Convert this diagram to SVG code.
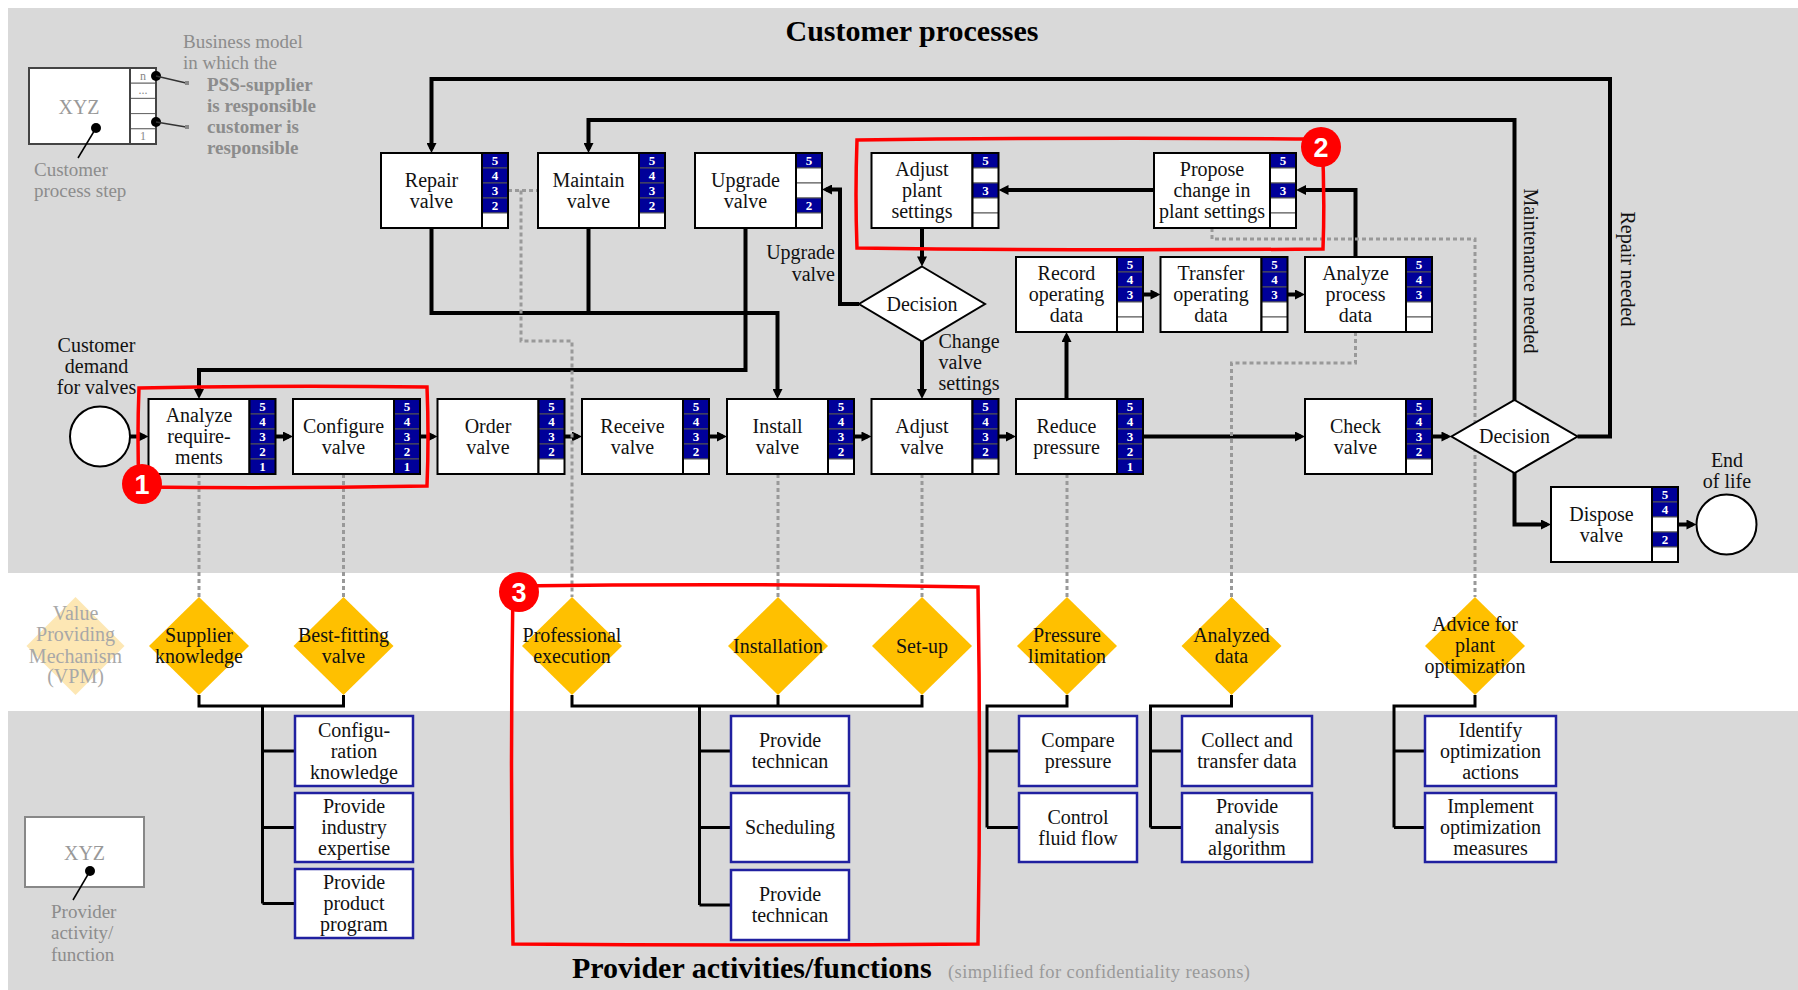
<svg xmlns="http://www.w3.org/2000/svg" width="1798" height="990" viewBox="0 0 1798 990">
<defs>
<marker id="ah" viewBox="0 0 10 10" refX="6" refY="5" markerWidth="11" markerHeight="10" markerUnits="userSpaceOnUse" orient="auto"><path d="M0,0 L10,5 L0,10 z" fill="#000"/></marker>
<style>
.box{fill:#fff;stroke:#000;stroke-width:2}
.cb{fill:#000099;stroke:#555;stroke-width:1}
.cw{fill:#fff;stroke:#555;stroke-width:1}
.col{fill:none;stroke:#000;stroke-width:2}
.cn{font-family:"Liberation Serif",serif;font-weight:bold;font-size:13px;fill:#fff;text-anchor:middle}
.t{font-family:"Liberation Serif",serif;font-size:20px;fill:#111;text-anchor:middle}
.tl{font-family:"Liberation Serif",serif;font-size:20px;fill:#111}
.g{font-family:"Liberation Serif",serif;font-size:19px;fill:#8c8c8c}
.gb{font-family:"Liberation Serif",serif;font-size:19px;font-weight:bold;fill:#8c8c8c}
.conn{fill:none;stroke:#000;stroke-width:4}
.dot{fill:none;stroke:#999;stroke-width:3;stroke-dasharray:4 3}
.tree{fill:none;stroke:#000;stroke-width:3}
.vpm{fill:#FFC000}
.pbox{fill:#fff;stroke:#2020a0;stroke-width:2.5}
.red{fill:none;stroke:#ff0000;stroke-width:3.5}
.rc{fill:#ff0000}
.rn{font-family:"Liberation Sans",sans-serif;font-weight:bold;font-size:27px;fill:#fff;text-anchor:middle}
.title{font-family:"Liberation Serif",serif;font-weight:bold;font-size:30px;fill:#000}
</style>
</defs>

<!-- background bands -->
<rect x="0" y="0" width="1798" height="990" fill="#fff"/>
<rect x="8" y="8" width="1790" height="565" fill="#d9d9d9"/>
<rect x="8" y="711" width="1790" height="279" fill="#d9d9d9"/>

<text class="title" x="912" y="41" text-anchor="middle">Customer processes</text>
<text class="title" x="572" y="978">Provider activities/functions</text>
<text class="g" x="948" y="978" textLength="302" style="font-size:18.5px;fill:#999">(simplified for confidentiality reasons)</text>

<!-- legend: customer process step -->
<g id="legend-customer">
<rect x="29" y="68" width="101" height="76" fill="#fff" stroke="#444" stroke-width="2"/>
<rect x="130" y="68" width="26" height="15.2" fill="#fff" stroke="#666" stroke-width="1"/>
<rect x="130" y="83.2" width="26" height="15.2" fill="#fff" stroke="#666" stroke-width="1"/>
<rect x="130" y="98.4" width="26" height="15.2" fill="#fff" stroke="#666" stroke-width="1"/>
<rect x="130" y="113.6" width="26" height="15.2" fill="#fff" stroke="#666" stroke-width="1"/>
<rect x="130" y="128.8" width="26" height="15.2" fill="#fff" stroke="#666" stroke-width="1"/>
<rect x="130" y="68" width="26" height="76" fill="none" stroke="#444" stroke-width="2"/>
<text x="143" y="80" text-anchor="middle" style="font-family:'Liberation Serif',serif;font-size:12px;fill:#888">n</text>
<text x="143" y="94" text-anchor="middle" style="font-family:'Liberation Serif',serif;font-size:12px;fill:#888">...</text>
<text x="143" y="140" text-anchor="middle" style="font-family:'Liberation Serif',serif;font-size:12px;fill:#888">1</text>
<text x="79" y="114" text-anchor="middle" class="g" style="font-size:20px;fill:#999">XYZ</text>
<circle cx="96" cy="128" r="5" fill="#000"/>
<line x1="96" y1="128" x2="78" y2="158" stroke="#000" stroke-width="1.5"/>
<text class="g" x="34" y="176">Customer</text>
<text class="g" x="34" y="197">process step</text>
<circle cx="156" cy="76" r="5" fill="#000"/>
<line x1="156" y1="76" x2="186" y2="83" stroke="#333" stroke-width="1.5"/>
<rect x="185" y="81" width="4" height="4" fill="#888"/>
<circle cx="156" cy="122" r="5" fill="#000"/>
<line x1="156" y1="122" x2="186" y2="127" stroke="#333" stroke-width="1.5"/>
<rect x="185" y="125" width="4" height="4" fill="#888"/>
<text class="g" x="183" y="48">Business model</text>
<text class="g" x="183" y="69">in which the</text>
<text class="gb" x="207" y="91">PSS-supplier</text>
<text class="gb" x="207" y="112">is responsible</text>
<text class="gb" x="207" y="133">customer is</text>
<text class="gb" x="207" y="154">responsible</text>
</g>

<!-- connectors -->
<g id="connectors">
<path class="conn" d="M130,436.5 H144.5" marker-end="url(#ah)"/>
<path class="conn" d="M275.5,436.5 H289" marker-end="url(#ah)"/>
<path class="conn" d="M420,436.5 H433.5" marker-end="url(#ah)"/>
<path class="conn" d="M564.5,436.5 H578" marker-end="url(#ah)"/>
<path class="conn" d="M709,436.5 H723" marker-end="url(#ah)"/>
<path class="conn" d="M854,436.5 H867.5" marker-end="url(#ah)"/>
<path class="conn" d="M998.5,436.5 H1012" marker-end="url(#ah)"/>
<path class="conn" d="M1143,436.5 H1301" marker-end="url(#ah)"/>
<path class="conn" d="M1432,436.5 H1447.5" marker-end="url(#ah)"/>
<path class="conn" d="M1514.5,473 V524.5 H1547" marker-end="url(#ah)"/>
<path class="conn" d="M1678,524.5 H1692.5" marker-end="url(#ah)"/>
<path class="conn" d="M1577.5,436.5 H1610 V79 H431.5 V149" marker-end="url(#ah)"/>
<path class="conn" d="M1514.5,400 V120 H588.5 V149" marker-end="url(#ah)"/>
<path class="conn" d="M431.5,228 V313 H777.5 V395" marker-end="url(#ah)"/>
<path class="conn" d="M588.5,228 V313"/>
<path class="conn" d="M745.5,228 V370 H199 V395" marker-end="url(#ah)"/>
<path class="conn" d="M922,228 V262.5" marker-end="url(#ah)"/>
<path class="conn" d="M922,341.5 V395" marker-end="url(#ah)"/>
<path class="conn" d="M859,304 H840 V189.5 H826" marker-end="url(#ah)"/>
<path class="conn" d="M1154,190 H1002.5" marker-end="url(#ah)"/>
<path class="conn" d="M1066.5,399 V336" marker-end="url(#ah)"/>
<path class="conn" d="M1143,294.5 H1156.5" marker-end="url(#ah)"/>
<path class="conn" d="M1287.5,294.5 H1301" marker-end="url(#ah)"/>
<path class="conn" d="M1355.5,257 V190 H1300" marker-end="url(#ah)"/>
<path class="dot" d="M199,474 V597"/>
<path class="dot" d="M343.5,474 V597"/>
<path class="dot" d="M508,190.5 H538"/>
<path class="dot" d="M521,190.5 V341 H572 V597"/>
<path class="dot" d="M778,474 V597"/>
<path class="dot" d="M922,474 V597"/>
<path class="dot" d="M1067,474 V597"/>
<path class="dot" d="M1355.5,332 V363 H1231.5 V597"/>
<path class="dot" d="M1212,228 V239 H1475 V597"/>
<path class="tree" d="M199,695 V706 H343.5 V695"/>
<path class="tree" d="M262.5,706 V903.5 M262.5,751 H295 M262.5,827.5 H295 M262.5,903.5 H295"/>
<path class="tree" d="M572,695 V706 H922 V695 M778,695 V706"/>
<path class="tree" d="M699.5,706 V905 M699.5,751 H731 M699.5,827.5 H731 M699.5,905 H731"/>
<path class="tree" d="M1067,695 V706 H987 V827.5 M987,751 H1019 M987,827.5 H1019"/>
<path class="tree" d="M1231.5,695 V706 H1150.5 V827.5 M1150.5,751 H1182 M1150.5,827.5 H1182"/>
<path class="tree" d="M1475,695 V706 H1394 V827.5 M1394,751 H1425 M1394,827.5 H1425"/>
</g>

<g id="start"><circle cx="100" cy="436.5" r="30" fill="#fff" stroke="#000" stroke-width="2"/>
<text class="t" x="96.5" y="352">Customer</text><text class="t" x="96.5" y="373">demand</text><text class="t" x="96.5" y="394">for valves</text></g>
<g id="end"><circle cx="1726.5" cy="524.5" r="30" fill="#fff" stroke="#000" stroke-width="2"/>
<text class="t" x="1727" y="467">End</text><text class="t" x="1727" y="488">of life</text></g>

<g id="repair-valve">
<rect class="box" x="381" y="153" width="101" height="75"/>
<rect class="cb" x="482" y="153" width="26" height="15"/><rect class="cb" x="482" y="168" width="26" height="15"/><rect class="cb" x="482" y="183" width="26" height="15"/><rect class="cb" x="482" y="198" width="26" height="15"/><rect class="cw" x="482" y="213" width="26" height="15"/>
<rect class="col" x="482" y="153" width="26" height="75"/>
<text class="cn" x="495" y="165">5</text><text class="cn" x="495" y="180">4</text><text class="cn" x="495" y="195">3</text><text class="cn" x="495" y="210">2</text>
<text class="t" x="431.5" y="186.5">Repair</text><text class="t" x="431.5" y="207.5">valve</text>
</g>
<g id="maintain-valve">
<rect class="box" x="538" y="153" width="101" height="75"/>
<rect class="cb" x="639" y="153" width="26" height="15"/><rect class="cb" x="639" y="168" width="26" height="15"/><rect class="cb" x="639" y="183" width="26" height="15"/><rect class="cb" x="639" y="198" width="26" height="15"/><rect class="cw" x="639" y="213" width="26" height="15"/>
<rect class="col" x="639" y="153" width="26" height="75"/>
<text class="cn" x="652" y="165">5</text><text class="cn" x="652" y="180">4</text><text class="cn" x="652" y="195">3</text><text class="cn" x="652" y="210">2</text>
<text class="t" x="588.5" y="186.5">Maintain</text><text class="t" x="588.5" y="207.5">valve</text>
</g>
<g id="upgrade-valve">
<rect class="box" x="695" y="153" width="101" height="75"/>
<rect class="cb" x="796" y="153" width="26" height="15"/><rect class="cw" x="796" y="168" width="26" height="15"/><rect class="cw" x="796" y="183" width="26" height="15"/><rect class="cb" x="796" y="198" width="26" height="15"/><rect class="cw" x="796" y="213" width="26" height="15"/>
<rect class="col" x="796" y="153" width="26" height="75"/>
<text class="cn" x="809" y="165">5</text><text class="cn" x="809" y="210">2</text>
<text class="t" x="745.5" y="186.5">Upgrade</text><text class="t" x="745.5" y="207.5">valve</text>
</g>
<g id="adjust-plant-settings">
<rect class="box" x="871.5" y="153" width="101" height="75"/>
<rect class="cb" x="972.5" y="153" width="26" height="15"/><rect class="cw" x="972.5" y="168" width="26" height="15"/><rect class="cb" x="972.5" y="183" width="26" height="15"/><rect class="cw" x="972.5" y="198" width="26" height="15"/><rect class="cw" x="972.5" y="213" width="26" height="15"/>
<rect class="col" x="972.5" y="153" width="26" height="75"/>
<text class="cn" x="985.5" y="165">5</text><text class="cn" x="985.5" y="195">3</text>
<text class="t" x="922" y="176">Adjust</text><text class="t" x="922" y="197">plant</text><text class="t" x="922" y="218">settings</text>
</g>
<g id="propose-change">
<rect class="box" x="1154" y="153" width="116" height="75"/>
<rect class="cb" x="1270" y="153" width="26" height="15"/><rect class="cw" x="1270" y="168" width="26" height="15"/><rect class="cb" x="1270" y="183" width="26" height="15"/><rect class="cw" x="1270" y="198" width="26" height="15"/><rect class="cw" x="1270" y="213" width="26" height="15"/>
<rect class="col" x="1270" y="153" width="26" height="75"/>
<text class="cn" x="1283" y="165">5</text><text class="cn" x="1283" y="195">3</text>
<text class="t" x="1212" y="176">Propose</text><text class="t" x="1212" y="197">change in</text><text class="t" x="1212" y="218">plant settings</text>
</g>

<g id="decision-mid">
<polygon points="922,266.5 985,304 922,341.5 859,304" fill="#fff" stroke="#000" stroke-width="2"/>
<text class="t" x="922" y="310.5">Decision</text>
</g>
<text class="t" x="835" y="259" style="text-anchor:end">Upgrade</text>
<text class="t" x="835" y="281" style="text-anchor:end">valve</text>
<text class="tl" x="938.5" y="348">Change</text>
<text class="tl" x="938.5" y="369">valve</text>
<text class="tl" x="938.5" y="390">settings</text>
<g id="decision-right">
<polygon points="1514.5,400 1577.5,436.5 1514.5,473 1451.5,436.5" fill="#fff" stroke="#000" stroke-width="2"/>
<text class="t" x="1514.5" y="443">Decision</text>
</g>
<text class="t" transform="translate(1524,271) rotate(90)">Maintenance needed</text>
<text class="t" transform="translate(1621,269) rotate(90)">Repair needed</text>

<g id="record-operating-data">
<rect class="box" x="1016" y="257" width="101" height="75"/>
<rect class="cb" x="1117" y="257" width="26" height="15"/><rect class="cb" x="1117" y="272" width="26" height="15"/><rect class="cb" x="1117" y="287" width="26" height="15"/><rect class="cw" x="1117" y="302" width="26" height="15"/><rect class="cw" x="1117" y="317" width="26" height="15"/>
<rect class="col" x="1117" y="257" width="26" height="75"/>
<text class="cn" x="1130" y="269">5</text><text class="cn" x="1130" y="284">4</text><text class="cn" x="1130" y="299">3</text>
<text class="t" x="1066.5" y="280">Record</text><text class="t" x="1066.5" y="301">operating</text><text class="t" x="1066.5" y="322">data</text>
</g>
<g id="transfer-operating-data">
<rect class="box" x="1160.5" y="257" width="101" height="75"/>
<rect class="cb" x="1261.5" y="257" width="26" height="15"/><rect class="cb" x="1261.5" y="272" width="26" height="15"/><rect class="cb" x="1261.5" y="287" width="26" height="15"/><rect class="cw" x="1261.5" y="302" width="26" height="15"/><rect class="cw" x="1261.5" y="317" width="26" height="15"/>
<rect class="col" x="1261.5" y="257" width="26" height="75"/>
<text class="cn" x="1274.5" y="269">5</text><text class="cn" x="1274.5" y="284">4</text><text class="cn" x="1274.5" y="299">3</text>
<text class="t" x="1211" y="280">Transfer</text><text class="t" x="1211" y="301">operating</text><text class="t" x="1211" y="322">data</text>
</g>
<g id="analyze-process-data">
<rect class="box" x="1305" y="257" width="101" height="75"/>
<rect class="cb" x="1406" y="257" width="26" height="15"/><rect class="cb" x="1406" y="272" width="26" height="15"/><rect class="cb" x="1406" y="287" width="26" height="15"/><rect class="cw" x="1406" y="302" width="26" height="15"/><rect class="cw" x="1406" y="317" width="26" height="15"/>
<rect class="col" x="1406" y="257" width="26" height="75"/>
<text class="cn" x="1419" y="269">5</text><text class="cn" x="1419" y="284">4</text><text class="cn" x="1419" y="299">3</text>
<text class="t" x="1355.5" y="280">Analyze</text><text class="t" x="1355.5" y="301">process</text><text class="t" x="1355.5" y="322">data</text>
</g>

<g id="analyze-requirements">
<rect class="box" x="148.5" y="399" width="101" height="75"/>
<rect class="cb" x="249.5" y="399" width="26" height="15"/><rect class="cb" x="249.5" y="414" width="26" height="15"/><rect class="cb" x="249.5" y="429" width="26" height="15"/><rect class="cb" x="249.5" y="444" width="26" height="15"/><rect class="cb" x="249.5" y="459" width="26" height="15"/>
<rect class="col" x="249.5" y="399" width="26" height="75"/>
<text class="cn" x="262.5" y="411">5</text><text class="cn" x="262.5" y="426">4</text><text class="cn" x="262.5" y="441">3</text><text class="cn" x="262.5" y="456">2</text><text class="cn" x="262.5" y="471">1</text>
<text class="t" x="199" y="422">Analyze</text><text class="t" x="199" y="443">require-</text><text class="t" x="199" y="464">ments</text>
</g>
<g id="configure-valve">
<rect class="box" x="293" y="399" width="101" height="75"/>
<rect class="cb" x="394" y="399" width="26" height="15"/><rect class="cb" x="394" y="414" width="26" height="15"/><rect class="cb" x="394" y="429" width="26" height="15"/><rect class="cb" x="394" y="444" width="26" height="15"/><rect class="cb" x="394" y="459" width="26" height="15"/>
<rect class="col" x="394" y="399" width="26" height="75"/>
<text class="cn" x="407" y="411">5</text><text class="cn" x="407" y="426">4</text><text class="cn" x="407" y="441">3</text><text class="cn" x="407" y="456">2</text><text class="cn" x="407" y="471">1</text>
<text class="t" x="343.5" y="432.5">Configure</text><text class="t" x="343.5" y="453.5">valve</text>
</g>
<g id="order-valve">
<rect class="box" x="437.5" y="399" width="101" height="75"/>
<rect class="cb" x="538.5" y="399" width="26" height="15"/><rect class="cb" x="538.5" y="414" width="26" height="15"/><rect class="cb" x="538.5" y="429" width="26" height="15"/><rect class="cb" x="538.5" y="444" width="26" height="15"/><rect class="cw" x="538.5" y="459" width="26" height="15"/>
<rect class="col" x="538.5" y="399" width="26" height="75"/>
<text class="cn" x="551.5" y="411">5</text><text class="cn" x="551.5" y="426">4</text><text class="cn" x="551.5" y="441">3</text><text class="cn" x="551.5" y="456">2</text>
<text class="t" x="488" y="432.5">Order</text><text class="t" x="488" y="453.5">valve</text>
</g>
<g id="receive-valve">
<rect class="box" x="582" y="399" width="101" height="75"/>
<rect class="cb" x="683" y="399" width="26" height="15"/><rect class="cb" x="683" y="414" width="26" height="15"/><rect class="cb" x="683" y="429" width="26" height="15"/><rect class="cb" x="683" y="444" width="26" height="15"/><rect class="cw" x="683" y="459" width="26" height="15"/>
<rect class="col" x="683" y="399" width="26" height="75"/>
<text class="cn" x="696" y="411">5</text><text class="cn" x="696" y="426">4</text><text class="cn" x="696" y="441">3</text><text class="cn" x="696" y="456">2</text>
<text class="t" x="632.5" y="432.5">Receive</text><text class="t" x="632.5" y="453.5">valve</text>
</g>
<g id="install-valve">
<rect class="box" x="727" y="399" width="101" height="75"/>
<rect class="cb" x="828" y="399" width="26" height="15"/><rect class="cb" x="828" y="414" width="26" height="15"/><rect class="cb" x="828" y="429" width="26" height="15"/><rect class="cb" x="828" y="444" width="26" height="15"/><rect class="cw" x="828" y="459" width="26" height="15"/>
<rect class="col" x="828" y="399" width="26" height="75"/>
<text class="cn" x="841" y="411">5</text><text class="cn" x="841" y="426">4</text><text class="cn" x="841" y="441">3</text><text class="cn" x="841" y="456">2</text>
<text class="t" x="777.5" y="432.5">Install</text><text class="t" x="777.5" y="453.5">valve</text>
</g>
<g id="adjust-valve">
<rect class="box" x="871.5" y="399" width="101" height="75"/>
<rect class="cb" x="972.5" y="399" width="26" height="15"/><rect class="cb" x="972.5" y="414" width="26" height="15"/><rect class="cb" x="972.5" y="429" width="26" height="15"/><rect class="cb" x="972.5" y="444" width="26" height="15"/><rect class="cw" x="972.5" y="459" width="26" height="15"/>
<rect class="col" x="972.5" y="399" width="26" height="75"/>
<text class="cn" x="985.5" y="411">5</text><text class="cn" x="985.5" y="426">4</text><text class="cn" x="985.5" y="441">3</text><text class="cn" x="985.5" y="456">2</text>
<text class="t" x="922" y="432.5">Adjust</text><text class="t" x="922" y="453.5">valve</text>
</g>
<g id="reduce-pressure">
<rect class="box" x="1016" y="399" width="101" height="75"/>
<rect class="cb" x="1117" y="399" width="26" height="15"/><rect class="cb" x="1117" y="414" width="26" height="15"/><rect class="cb" x="1117" y="429" width="26" height="15"/><rect class="cb" x="1117" y="444" width="26" height="15"/><rect class="cb" x="1117" y="459" width="26" height="15"/>
<rect class="col" x="1117" y="399" width="26" height="75"/>
<text class="cn" x="1130" y="411">5</text><text class="cn" x="1130" y="426">4</text><text class="cn" x="1130" y="441">3</text><text class="cn" x="1130" y="456">2</text><text class="cn" x="1130" y="471">1</text>
<text class="t" x="1066.5" y="432.5">Reduce</text><text class="t" x="1066.5" y="453.5">pressure</text>
</g>
<g id="check-valve">
<rect class="box" x="1305" y="399" width="101" height="75"/>
<rect class="cb" x="1406" y="399" width="26" height="15"/><rect class="cb" x="1406" y="414" width="26" height="15"/><rect class="cb" x="1406" y="429" width="26" height="15"/><rect class="cb" x="1406" y="444" width="26" height="15"/><rect class="cw" x="1406" y="459" width="26" height="15"/>
<rect class="col" x="1406" y="399" width="26" height="75"/>
<text class="cn" x="1419" y="411">5</text><text class="cn" x="1419" y="426">4</text><text class="cn" x="1419" y="441">3</text><text class="cn" x="1419" y="456">2</text>
<text class="t" x="1355.5" y="432.5">Check</text><text class="t" x="1355.5" y="453.5">valve</text>
</g>
<g id="dispose-valve">
<rect class="box" x="1551" y="487" width="101" height="75"/>
<rect class="cb" x="1652" y="487" width="26" height="15"/><rect class="cb" x="1652" y="502" width="26" height="15"/><rect class="cw" x="1652" y="517" width="26" height="15"/><rect class="cb" x="1652" y="532" width="26" height="15"/><rect class="cw" x="1652" y="547" width="26" height="15"/>
<rect class="col" x="1652" y="487" width="26" height="75"/>
<text class="cn" x="1665" y="499">5</text><text class="cn" x="1665" y="514">4</text><text class="cn" x="1665" y="544">2</text>
<text class="t" x="1601.5" y="520.5">Dispose</text><text class="t" x="1601.5" y="541.5">valve</text>
</g>

<g id="vpm-legend">
<polygon points="75.5,597 124.5,646 75.5,695 26.5,646" fill="#fde7b4"/>
<text class="t" x="75.5" y="620" style="fill:#a8a8a8">Value</text><text class="t" x="75.5" y="641" style="fill:#a8a8a8">Providing</text><text class="t" x="75.5" y="662.5" style="fill:#a8a8a8">Mechanism</text><text class="t" x="75.5" y="683" style="fill:#a8a8a8">(VPM)</text>
</g>
<g id="vpm-supplier-knowledge"><polygon class="vpm" points="199,597 249,646 199,695 149,646"/><text class="t" x="199" y="642">Supplier</text><text class="t" x="199" y="663">knowledge</text></g>
<g id="vpm-best-fitting"><polygon class="vpm" points="343.5,597 393.5,646 343.5,695 293.5,646"/><text class="t" x="343.5" y="642">Best-fitting</text><text class="t" x="343.5" y="663">valve</text></g>
<g id="vpm-professional"><polygon class="vpm" points="572,597 622,646 572,695 522,646"/><text class="t" x="572" y="642">Professional</text><text class="t" x="572" y="663">execution</text></g>
<g id="vpm-installation"><polygon class="vpm" points="778,597 828,646 778,695 728,646"/><text class="t" x="778" y="652.5">Installation</text></g>
<g id="vpm-setup"><polygon class="vpm" points="922,597 972,646 922,695 872,646"/><text class="t" x="922" y="652.5">Set-up</text></g>
<g id="vpm-pressure"><polygon class="vpm" points="1067,597 1117,646 1067,695 1017,646"/><text class="t" x="1067" y="642">Pressure</text><text class="t" x="1067" y="663">limitation</text></g>
<g id="vpm-analyzed"><polygon class="vpm" points="1231.5,597 1281.5,646 1231.5,695 1181.5,646"/><text class="t" x="1231.5" y="642">Analyzed</text><text class="t" x="1231.5" y="663">data</text></g>
<g id="vpm-advice"><polygon class="vpm" points="1475,597 1525,646 1475,695 1425,646"/><text class="t" x="1475" y="631">Advice for</text><text class="t" x="1475" y="652">plant</text><text class="t" x="1475" y="673">optimization</text></g>

<g id="legend-provider">
<rect x="25" y="817" width="119" height="70" fill="#fff" stroke="#888" stroke-width="2"/>
<text class="g" x="84.5" y="860" text-anchor="middle" style="font-size:20px;fill:#999">XYZ</text>
<circle cx="90" cy="871" r="5" fill="#000"/>
<line x1="90" y1="871" x2="73" y2="900" stroke="#000" stroke-width="1.5"/>
<text class="g" x="51" y="918">Provider</text><text class="g" x="51" y="939">activity/</text><text class="g" x="51" y="961">function</text>
</g>
<g id="p-configuration-knowledge"><rect class="pbox" x="295" y="716" width="118" height="70"/><text class="t" x="354" y="736.5">Configu-</text><text class="t" x="354" y="757.5">ration</text><text class="t" x="354" y="778.5">knowledge</text></g>
<g id="p-industry-expertise"><rect class="pbox" x="295" y="793" width="118" height="69"/><text class="t" x="354" y="813">Provide</text><text class="t" x="354" y="834">industry</text><text class="t" x="354" y="855">expertise</text></g>
<g id="p-product-program"><rect class="pbox" x="295" y="869" width="118" height="69"/><text class="t" x="354" y="889">Provide</text><text class="t" x="354" y="910">product</text><text class="t" x="354" y="931">program</text></g>
<g id="p-technican-1"><rect class="pbox" x="731" y="716" width="118" height="70"/><text class="t" x="790" y="747">Provide</text><text class="t" x="790" y="768">technican</text></g>
<g id="p-scheduling"><rect class="pbox" x="731" y="793" width="118" height="69"/><text class="t" x="790" y="834">Scheduling</text></g>
<g id="p-technican-2"><rect class="pbox" x="731" y="870" width="118" height="70"/><text class="t" x="790" y="901">Provide</text><text class="t" x="790" y="922">technican</text></g>
<g id="p-compare-pressure"><rect class="pbox" x="1019" y="716" width="118" height="70"/><text class="t" x="1078" y="747">Compare</text><text class="t" x="1078" y="768">pressure</text></g>
<g id="p-control-fluid"><rect class="pbox" x="1019" y="793" width="118" height="69"/><text class="t" x="1078" y="823.5">Control</text><text class="t" x="1078" y="844.5">fluid flow</text></g>
<g id="p-collect-transfer"><rect class="pbox" x="1182" y="716" width="130" height="70"/><text class="t" x="1247" y="747">Collect and</text><text class="t" x="1247" y="768">transfer data</text></g>
<g id="p-analysis-algorithm"><rect class="pbox" x="1182" y="793" width="130" height="69"/><text class="t" x="1247" y="813">Provide</text><text class="t" x="1247" y="834">analysis</text><text class="t" x="1247" y="855">algorithm</text></g>
<g id="p-identify-optimization"><rect class="pbox" x="1425" y="716" width="131" height="70"/><text class="t" x="1490.5" y="736.5">Identify</text><text class="t" x="1490.5" y="757.5">optimization</text><text class="t" x="1490.5" y="778.5">actions</text></g>
<g id="p-implement-optimization"><rect class="pbox" x="1425" y="793" width="131" height="69"/><text class="t" x="1490.5" y="813">Implement</text><text class="t" x="1490.5" y="834">optimization</text><text class="t" x="1490.5" y="855">measures</text></g>

<g id="annotation-1">
<path class="red" d="M139,388 Q280,385 427,387 Q429,437 427,486 Q280,489 139,487 Q137,437 139,388 Z"/>
<circle class="rc" cx="142" cy="484" r="20"/><text class="rn" x="142" y="494">1</text>
</g>
<g id="annotation-2">
<path class="red" d="M857,140 Q1080,137 1322,139 Q1325,195 1323,249 Q1080,251 857,248 Q855,195 857,140 Z"/>
<circle class="rc" cx="1321" cy="147" r="20"/><text class="rn" x="1321" y="157">2</text>
</g>
<g id="annotation-3">
<path class="red" d="M513,586 Q745,583 978,587 Q981,765 978,944 Q745,946 513,944 Q510,765 513,586 Z"/>
<circle class="rc" cx="519" cy="592" r="20"/><text class="rn" x="519" y="602">3</text>
</g>
</svg>
